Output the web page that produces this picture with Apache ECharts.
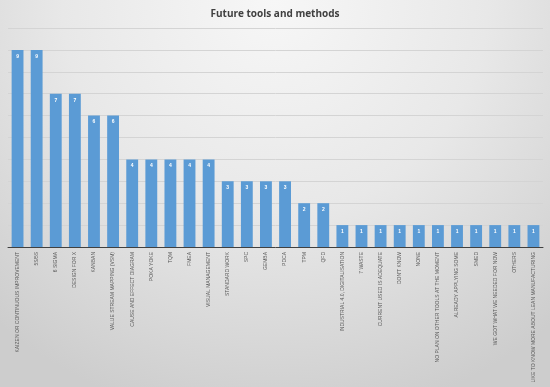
<!DOCTYPE html>
<html><head><meta charset="utf-8">
<script src="https://cdn.jsdelivr.net/npm/echarts@6/dist/echarts.min.js"></script>
<style>html,body{margin:0;padding:0;}#c{width:550px;height:387px;}</style>
</head><body><div id="c"></div>
<script>
const titleText = "Future tools and methods";
const categories = [
 "KAIZEN OR CONTINUOUS IMPROVEMENT","5S/5S","6 SIGMA","DESIGN FOR X","KANBAN",
 "VALUE STREAM MAPPING (VSM)","CAUSE AND EFFECT DIAGRAM","POKA YOKE","TQM","FMEA",
 "VISUAL MANAGEMENT","STANDARD WORK","SPC","GEMBA","PDCA","TPM","QFD",
 "INDUSTRIAL 4.0, DIGITALISATION","7 WASTE","CURRENT USED IS ADEQUATE","DON'T KNOW",
 "NONE","NO PLAN ON OTHER TOOLS AT THE MOMENT","ALREADY APPLYING SOME","SMED",
 "WE GOT WHAT WE NEEDED FOR NOW","OTHERS","LIKE TO KNOW MORE ABOUT LEAN MANUFACTURING"
];
const values = [9,9,7,7,6,6,4,4,4,4,4,3,3,3,3,2,2,1,1,1,1,1,1,1,1,1,1,1];

const chart = echarts.init(document.getElementById('c'), null, {renderer:'canvas'});
chart.setOption({
  backgroundColor: {
    type:'radial', x:0.5, y:0.0, r:1.1,
    colorStops:[{offset:0,color:'#f7f7f7'},{offset:0.5,color:'#e8e8e8'},{offset:1,color:'#cdcdcd'}]
  },
  animation:false,
  title:{text:titleText,left:'center',top:4,
    textStyle:{fontFamily:'Open Sans, Liberation Sans, Arial',fontSize:10,fontWeight:'bold',color:'#404040'}},
  grid:{left:8,right:7,top:28,bottom:140,containLabel:false},
  xAxis:{type:'category',data:categories,
    axisLine:{lineStyle:{color:'#404040',width:1}},
    axisTick:{show:false},
    axisLabel:{rotate:90,interval:0,fontSize:5,color:'#595959',fontFamily:'Liberation Sans, Arial',margin:5}},
  yAxis:{type:'value',min:0,max:10,interval:1,
    axisLabel:{show:false},axisLine:{show:false},axisTick:{show:false},
    splitLine:{lineStyle:{color:'#d4d4d4',width:1}}},
  series:[{type:'bar',data:values,barWidth:'62%',
    itemStyle:{color:'#5b9bd5'},
    label:{show:true,position:'insideTop',distance:4,color:'#ffffff',fontSize:5,fontWeight:'bold',fontFamily:'Liberation Sans, Arial'}}]
});
</script>
</body></html>
